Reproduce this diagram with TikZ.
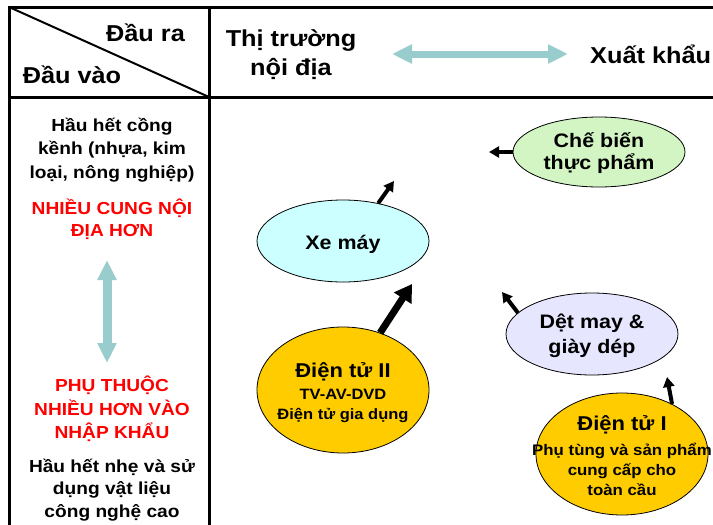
\documentclass[tikz,border=0pt]{standalone}
\usepackage{fontspec}
\setmainfont{Liberation Sans}[FakeStretch=1.1]
\usetikzlibrary{shapes.geometric,arrows.meta}
\definecolor{tealarrow}{RGB}{153,204,204}
\definecolor{foodgreen}{RGB}{210,245,195}
\definecolor{motocyan}{RGB}{204,255,255}
\definecolor{textilelav}{RGB}{230,230,255}
\definecolor{elecgold}{RGB}{255,204,0}
\definecolor{redtext}{RGB}{255,0,0}
\newcommand\myfs[2]{\fontsize{#1}{#2}\selectfont}
\begin{document}
\begin{tikzpicture}[x=1pt,y=-1pt,
  frame/.style={line width=3pt, line cap=rect},
  ell/.style={ellipse, draw=black, line width=0.8pt, inner sep=0pt},
  txt/.style={align=center, inner sep=0pt},
  head/.style={txt, font=\bfseries\myfs{23}{29}},
  col/.style={txt, font=\bfseries\myfs{17.4}{23.5}},
  big/.style={txt, font=\bfseries\myfs{19.5}{24}},
  small/.style={txt, font=\bfseries\myfs{15.3}{20}},
  arr/.style={line width=4pt, -{Triangle[width=11pt,length=10pt]}},
  bigarr/.style={line width=7pt, -{Triangle[width=20pt,length=17pt]}},
  tealarr/.style={draw=tealarrow, line width=7pt,
     {Triangle[width=18pt,length=20pt]}-{Triangle[width=18pt,length=20pt]}}
]
\useasboundingbox (0,0) rectangle (713,525);
\fill[white] (0,0) rectangle (713,525);

% table frame
\draw[frame] (9,525) -- (9,7) -- (713,7);
\draw[frame] (9,97) -- (713,97);
\draw[frame] (209,7) -- (209,525);
\draw[line width=2pt] (9,7) -- (209,97);

% header texts
\node[head, anchor=base] (dr) at (145.5,41) {Đầu ra};
\node[head, anchor=base] (dv) at (72,83) {Đầu vào};
\node[head] (ttnd) at (291,55) {Thị trường\\nội địa};
\node[head, anchor=base west] (xk) at (590,63) {Xuất khẩu};
\coordinate (hl) at (392,54);
\coordinate (hr) at (568,54);
\draw[tealarr] (hl) -- (hr);

% left column
\node[col] (c1) at (112,150) {Hầu hết cồng\\kềnh (nhựa, kim\\loại, nông nghiệp)};
\node[col, text=redtext, font=\bfseries\myfs{17.4}{22}] (c2) at (112,219) {NHIỀU CUNG NỘI\\ĐỊA HƠN};
\coordinate (vt) at (107,260);
\coordinate (vb) at (107,363);
\draw[tealarr, line width=9pt] (vt) -- (vb);
\node[col, text=redtext] (c3) at (112,409) {PHỤ THUỘC\\NHIỀU HƠN VÀO\\NHẬP KHẨU};
\node[col, font=\bfseries\myfs{17.4}{22.5}] (c4) at (112,490) {Hầu hết nhẹ và sử\\dụng vật liệu\\công nghệ cao};

% ellipses
\node[ell, fill=foodgreen, minimum width=172pt, minimum height=70pt] (cb) at (599,152) {};
\node[big, font=\bfseries\myfs{19.5}{22}] (cbt) at (599,153) {Chế biến\\thực phẩm};
\node[ell, fill=motocyan, minimum width=172pt, minimum height=82pt] (xm) at (343,241) {};
\node[big] (xmt) at (343,244) {Xe máy};
\node[ell, fill=elecgold, minimum width=172pt, minimum height=126pt] (d2) at (343,390) {};
\node[big, font=\bfseries\myfs{20}{24}] (d2a) at (343,372) {Điện tử II};
\node[small, font=\bfseries\myfs{15}{20}] (d2b) at (343,406) {TV-AV-DVD\\Điện tử gia dụng};
\node[ell, fill=textilelav, minimum width=172pt, minimum height=82pt] (dm) at (592,334) {};
\node[big, font=\bfseries\myfs{19.5}{25}] (dmt) at (592,336) {Dệt may \&\\giày dép};
\node[ell, fill=elecgold, minimum width=172pt, minimum height=122pt] (d1) at (622,454) {};
\node[big, font=\bfseries\myfs{20}{24}] (d1a) at (622,425) {Điện tử I};
\node[small] (d1b) at (622,469) {Phụ tùng và sản phẩm\\cung cấp cho\\toàn cầu};

% arrows
\coordinate (cbE) at (489,152);
\coordinate (xmE) at (394,181);
\coordinate (d2E) at (412,284);
\coordinate (dmE) at (502,292);
\coordinate (d1E) at (667,377);
\draw[arr] (cb.west) -- (cbE);
\draw[arr] (xm.47) -- (xmE);
\draw[bigarr] (d2.57) -- (d2E);
\draw[arr] (dm.164) -- (dmE);
\draw[arr] (d1.45) -- (d1E);
\end{tikzpicture}
\end{document}
